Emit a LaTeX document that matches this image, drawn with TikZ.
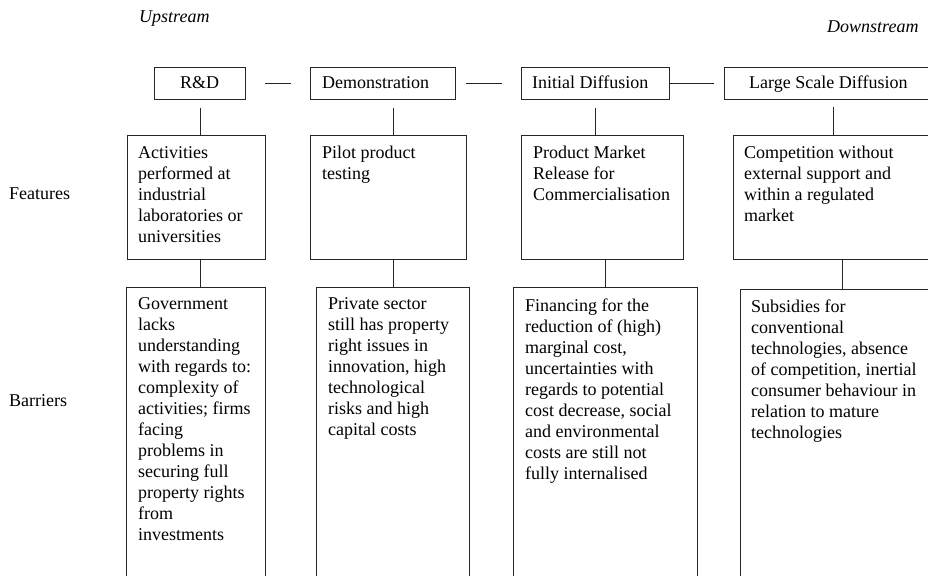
\documentclass[tikz,border=0pt]{standalone}
\usepackage{fontspec}
\setmainfont{Liberation Serif}
\begin{document}
\begin{tikzpicture}[x=1pt,y=-1pt,
  box/.style={draw=black!85,line width=0.9pt,inner sep=0pt,outer sep=0pt,anchor=north west},
  lbl/.style={font=\fontsize{18}{21}\selectfont,inner sep=0pt,anchor=base west},
  txt/.style={font=\fontsize{18}{21}\selectfont,inner sep=0pt,align=left,anchor=north west},
  conn/.style={draw=black!85,line width=0.9pt}]
\useasboundingbox (0,0) rectangle (928,575);
\clip (0,0) rectangle (928,575);
% labels
\node[lbl,font=\fontsize{18}{21}\selectfont\itshape] (up) at (139,23) {Upstream};
\node[lbl,font=\fontsize{18}{21}\selectfont\itshape] (down) at (827,33) {Downstream};
\node[lbl] (feat) at (9,199) {Features};
\node[lbl] (barr) at (9,406) {Barriers};
% top row
\node[box,minimum width=91pt,minimum height=32pt] (rd) at (154,67) {};
\node[box,minimum width=145pt,minimum height=32pt] (demo) at (310,67) {};
\node[box,minimum width=148pt,minimum height=32pt] (init) at (521,67) {};
\node[box,minimum width=211pt,minimum height=32pt] (large) at (724,67) {};
\node[lbl] (trd) at (180,89) {R\&D};
\node[lbl] (tdemo) at (322,89) {Demonstration};
\node[lbl] (tinit) at (532,89) {Initial Diffusion};
\node[lbl] (tlarge) at (749,89) {Large Scale Diffusion};
% features row
\node[box,minimum width=138pt,minimum height=124pt] (f1) at (127,135) {};
\node[box,minimum width=156pt,minimum height=124pt] (f2) at (310,135) {};
\node[box,minimum width=162pt,minimum height=124pt] (f3) at (521,135) {};
\node[box,minimum width=207pt,minimum height=124pt] (f4) at (733,135) {};
\node[txt] (tf1) at (138,143) {\rule{0pt}{15pt}Activities\\performed at\\industrial\\laboratories or\\universities};
\node[txt] (tf2) at (322,143) {\rule{0pt}{15pt}Pilot product\\testing};
\node[txt] (tf3) at (533,143) {\rule{0pt}{15pt}Product Market\\Release for\\Commercialisation};
\node[txt] (tf4) at (744,143) {\rule{0pt}{15pt}Competition without\\external support and\\within a regulated\\market};
% barriers row
\node[box,minimum width=139pt,minimum height=320pt] (b1) at (126,287) {};
\node[box,minimum width=153pt,minimum height=320pt] (b2) at (316,287) {};
\node[box,minimum width=184pt,minimum height=320pt] (b3) at (513,287) {};
\node[box,minimum width=200pt,minimum height=320pt] (b4) at (740,289) {};
\node[txt] (tb1) at (138,294) {\rule{0pt}{15pt}Government\\lacks\\understanding\\with regards to:\\complexity of\\activities; firms\\facing\\problems in\\securing full\\property rights\\from\\investments};
\node[txt] (tb2) at (328,294) {\rule{0pt}{15pt}Private sector\\still has property\\right issues in\\innovation, high\\technological\\risks and high\\capital costs};
\node[txt] (tb3) at (525,296) {\rule{0pt}{15pt}Financing for the\\reduction of (high)\\marginal cost,\\uncertainties with\\regards to potential\\cost decrease, social\\and environmental\\costs are still not\\fully internalised};
\node[txt] (tb4) at (751,297) {\rule{0pt}{15pt}Subsidies for\\conventional\\technologies, absence\\of competition, inertial\\consumer behaviour in\\relation to mature\\technologies};
% horizontal connectors
\draw[conn,shorten <=20pt,shorten >=19pt] (rd.east) -- (demo.west);
\draw[conn,shorten <=11pt,shorten >=19pt] (demo.east) -- (init.west);
\draw[conn,shorten >=10pt] (init.east) -- (large.west);
% top to features
\draw[conn,shorten <=9pt] ([xshift=0.5pt]rd.south) -- ([xshift=0.5pt]rd.south |- f1.north);
\draw[conn,shorten <=9pt] ([xshift=10.5pt]demo.south) -- ([xshift=10.5pt]demo.south |- f2.north);
\draw[conn,shorten <=9pt] (init.south) -- (init.south |- f3.north);
\draw[conn,shorten <=8pt] ([xshift=3.5pt]large.south) -- ([xshift=3.5pt]large.south |- f4.north);
% features to barriers
\draw[conn] ([xshift=4pt]f1.south) -- ([xshift=4pt]f1.south |- b1.north);
\draw[conn] ([xshift=5pt]f2.south) -- ([xshift=5pt]f2.south |- b2.north);
\draw[conn] ([xshift=3pt]f3.south) -- ([xshift=3pt]f3.south |- b3.north);
\draw[conn] ([xshift=5.5pt]f4.south) -- ([xshift=5.5pt]f4.south |- b4.north);
\end{tikzpicture}
\end{document}
